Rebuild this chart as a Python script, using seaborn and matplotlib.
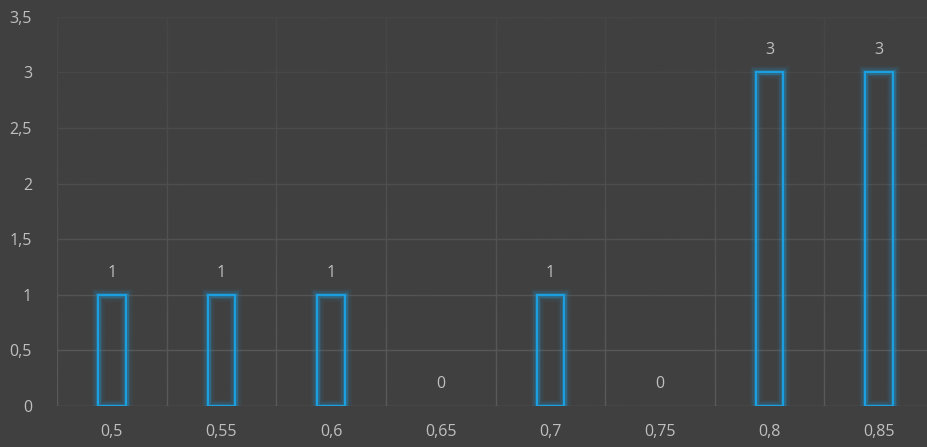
import matplotlib
matplotlib.use("Agg")
import matplotlib.pyplot as plt
import matplotlib.patheffects as pe
from matplotlib.ticker import FuncFormatter, MultipleLocator
import numpy as np
import pandas as pd
import seaborn as sns

# Dados do histograma
categories = ["0,5", "0,55", "0,6", "0,65", "0,7", "0,75", "0,8", "0,85"]
counts = [1, 1, 1, 0, 1, 0, 3, 3]

BG = "#404040"
TXT = "#bfbfbf"
BLUE = "#1ba1e2"
GRID = "#5a5a5a"
FS = 11.5

sns.set_theme(style="dark")
plt.rcParams["font.family"] = ["Open Sans", "DejaVu Sans"]

df = pd.DataFrame({"Bin": categories, "Count": counts})

fig = plt.figure(figsize=(9.27, 4.47), dpi=100, facecolor=BG)
# a área do gráfico passa um pouco da borda direita (como no original)
ax = fig.add_axes([57 / 927, 41 / 447, 877 / 927, 389.3 / 447])
ax.set_facecolor(BG)

sns.barplot(data=df, x="Bin", y="Count", ax=ax, width=0.25,
            fill=False, color=BLUE, linewidth=1.4, zorder=3)

# efeito de brilho nas barras (barras vazias ficam invisíveis)
for p, v in zip(ax.patches, counts):
    if v == 0:
        p.set_visible(False)
        continue
    p.set_edgecolor(BLUE)
    p.set_path_effects([
        pe.Stroke(linewidth=9, foreground=BLUE, alpha=0.07),
        pe.Stroke(linewidth=6, foreground=BLUE, alpha=0.14),
        pe.Stroke(linewidth=3.5, foreground=BLUE, alpha=0.3),
        pe.Normal(),
    ])

for c in ax.containers:
    ax.bar_label(c, labels=[str(v) for v in counts], padding=10,
                 color=TXT, fontsize=FS)

ax.set_xlim(-0.5, len(categories) - 0.5)
ax.yaxis.set_major_locator(MultipleLocator(0.5))
ax.yaxis.set_major_formatter(
    FuncFormatter(lambda v, _: f"{v:g}".replace(".", ",")))
ax.set_xticks(range(len(categories)))
ax.set_xticklabels(categories)
ax.set_xticks(np.arange(-0.5, len(categories), 1), minor=True)

ax.grid(True, which="major", axis="y", color=GRID, linewidth=1, zorder=0)
ax.grid(True, which="minor", axis="x", color=GRID, linewidth=1, zorder=0)
ax.grid(False, which="major", axis="x")
ax.set_axisbelow(True)

# gradiente para apagar a grade em direção à base
grad = np.zeros((256, 1, 4))
grad[..., :3] = matplotlib.colors.to_rgb(BG)
grad[:, 0, 3] = np.linspace(0.0, 0.8, 256)
ax.imshow(grad, extent=[-0.5, len(categories) - 0.5, 3.5, 0], aspect="auto",
          origin="upper", zorder=1)
ax.set_ylim(0, 3.5)

ax.tick_params(axis="both", which="both", length=0, colors=TXT, labelsize=FS)
ax.tick_params(axis="x", pad=13)
ax.tick_params(axis="y", pad=18)
ax.set_xlabel("")
ax.set_ylabel("")
for s in ax.spines.values():
    s.set_visible(False)

fig.savefig("out.png", dpi=100, facecolor=BG)
